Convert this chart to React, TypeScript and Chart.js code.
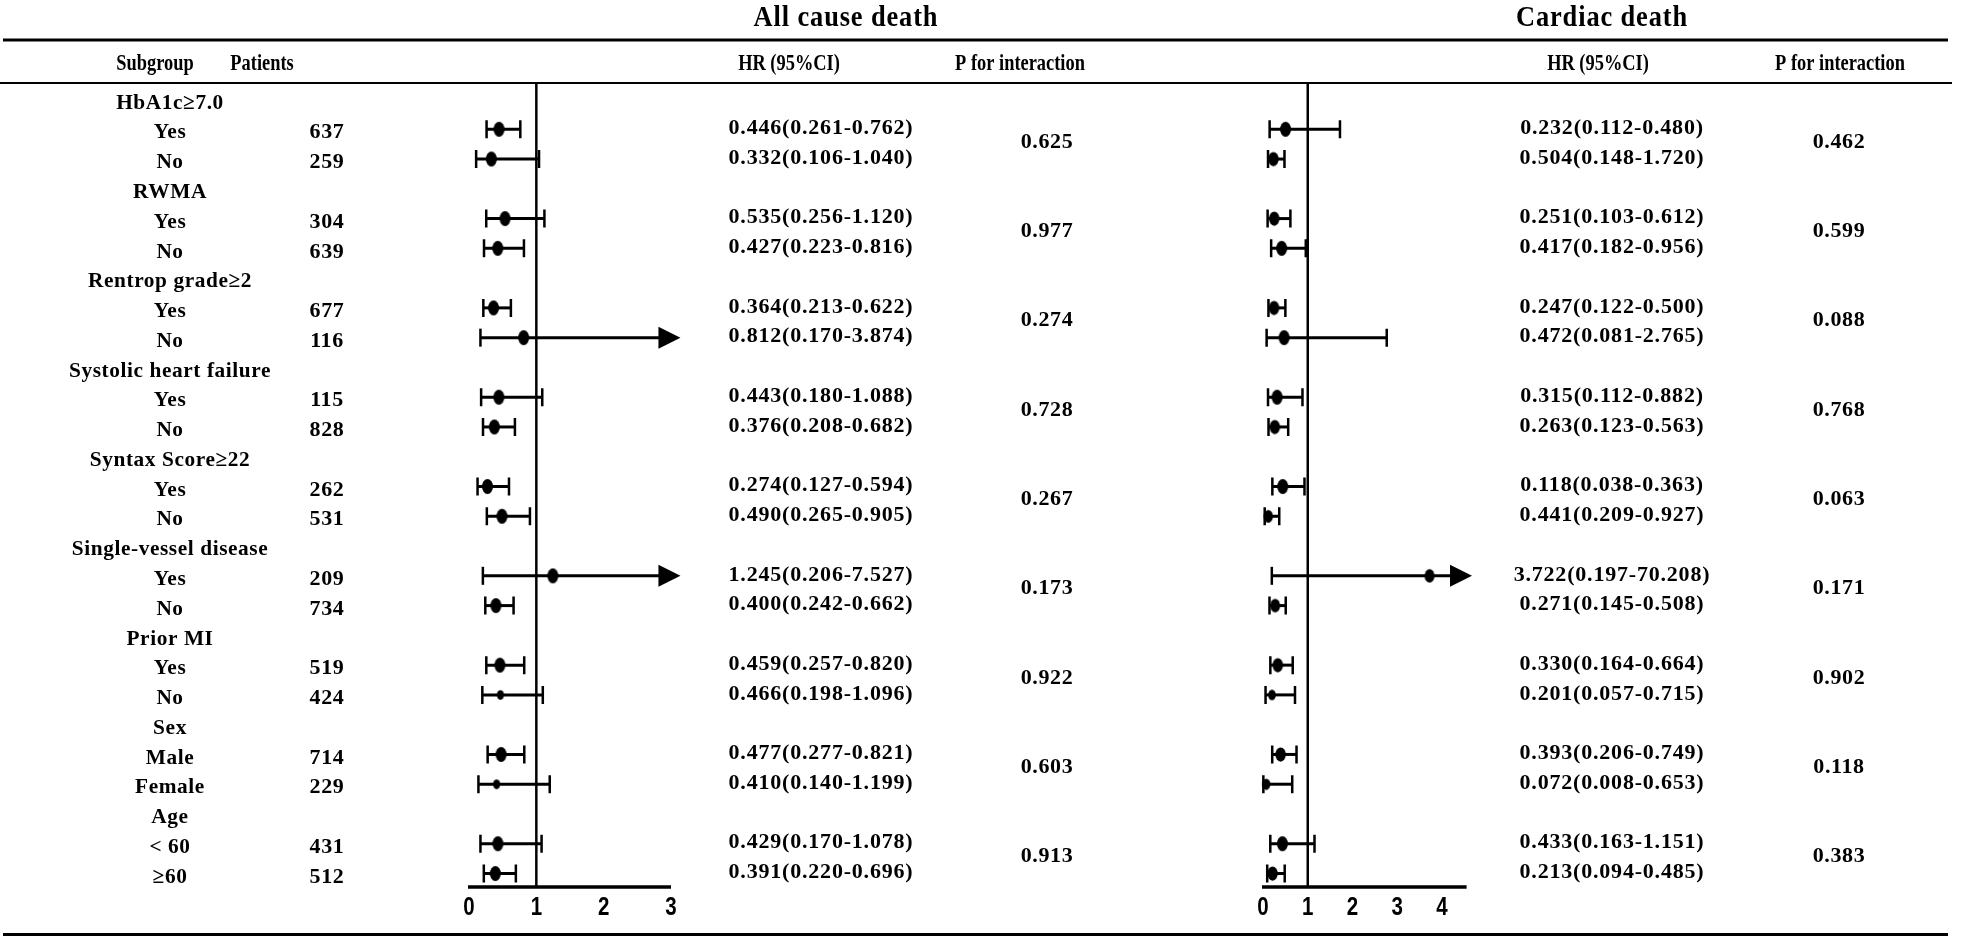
import React, { useEffect, useRef } from "react";
import { Chart, registerables } from "chart.js";

Chart.register(...registerables);

const W = 1961;
const H = 939;

// ---------- data ----------
const groupNames = [
  "HbA1c≥7.0",
  "RWMA",
  "Rentrop grade≥2",
  "Systolic heart failure",
  "Syntax Score≥22",
  "Single-vessel disease",
  "Prior MI",
  "Sex",
  "Age",
];
const levelNames = [
  "Yes", "No", "Yes", "No", "Yes", "No", "Yes", "No", "Yes", "No",
  "Yes", "No", "Yes", "No", "Male", "Female", "< 60", "≥60",
];
const patients = [637, 259, 304, 639, 677, 116, 115, 828, 262, 531, 209, 734, 519, 424, 714, 229, 431, 512];

// All cause death
const allHR = [0.446, 0.332, 0.535, 0.427, 0.364, 0.812, 0.443, 0.376, 0.274, 0.49, 1.245, 0.4, 0.459, 0.466, 0.477, 0.41, 0.429, 0.391];
const allLo = [0.261, 0.106, 0.256, 0.223, 0.213, 0.17, 0.18, 0.208, 0.127, 0.265, 0.206, 0.242, 0.257, 0.198, 0.277, 0.14, 0.17, 0.22];
const allHi = [0.762, 1.04, 1.12, 0.816, 0.622, 3.874, 1.088, 0.682, 0.594, 0.905, 7.527, 0.662, 0.82, 1.096, 0.821, 1.199, 1.078, 0.696];
const allP = ["0.625", "0.977", "0.274", "0.728", "0.267", "0.173", "0.922", "0.603", "0.913"];

// Cardiac death (as printed in the HR column)
const cardHR = [0.232, 0.504, 0.251, 0.417, 0.247, 0.472, 0.315, 0.263, 0.118, 0.441, 3.722, 0.271, 0.33, 0.201, 0.393, 0.072, 0.433, 0.213];
const cardLo = [0.112, 0.148, 0.103, 0.182, 0.122, 0.081, 0.112, 0.123, 0.038, 0.209, 0.197, 0.145, 0.164, 0.057, 0.206, 0.008, 0.163, 0.094];
const cardHi = [0.48, 1.72, 0.612, 0.956, 0.5, 2.765, 0.882, 0.563, 0.363, 0.927, 70.208, 0.508, 0.664, 0.715, 0.749, 0.653, 1.151, 0.485];
const cardP = ["0.462", "0.599", "0.088", "0.768", "0.063", "0.171", "0.902", "0.118", "0.383"];

// Cardiac death marks as drawn in the figure
const cardPlotHR = [0.504, 0.232, 0.251, 0.417, 0.247, 0.472, 0.315, 0.263, 0.441, 0.118, 3.722, 0.271, 0.33, 0.201, 0.393, 0.072, 0.433, 0.213];
const cardPlotLo = [0.148, 0.112, 0.103, 0.182, 0.122, 0.081, 0.112, 0.123, 0.209, 0.038, 0.197, 0.145, 0.164, 0.057, 0.206, 0.008, 0.163, 0.094];
const cardPlotHi = [1.72, 0.48, 0.612, 0.956, 0.5, 2.765, 0.882, 0.563, 0.927, 0.363, 70.208, 0.508, 0.664, 0.715, 0.749, 0.653, 1.151, 0.485];

const leftTicks = [0, 1, 2, 3];
const rightTicks = [0, 1, 2, 3, 4];

// ---------- styles / layout ----------
const leftMarkerSize = [1, 1, 1, 1, 1, 1, 1, 1, 1, 1, 1, 1, 1, 0.65, 1, 0.65, 1, 1];
const rightMarkerSize = [1, 0.95, 0.95, 1, 0.95, 1, 1, 0.95, 1, 0.85, 0.9, 0.9, 0.95, 0.7, 0.95, 0.75, 1, 0.95];

const ROW0_PX = 99.5;
const ROW_STEP = 29.77;
const LEFT_AX = { px0: 469, pxEnd: 671, vEnd: 3, lineEnd: 3, arrowTip: 3.14 };
const RIGHT_AX = { px0: 1263, pxEnd: 1442, vEnd: 4, lineEnd: 4.55, arrowTip: 4.67 };
const AXIS_ROW = 26.45;
const HEADER_RULE_Y = 83;

const SERIF = '"Liberation Serif", "Times New Roman", serif';
const SANS = '"Liberation Sans Narrow", "Arial Narrow", "Liberation Sans", Arial, sans-serif';

function rowOf(i: number) {
  return Math.floor(i / 2) * 3 + 1 + (i % 2);
}

function axisRange(ax: { px0: number; pxEnd: number; vEnd: number }) {
  const ppu = (ax.pxEnd - ax.px0) / ax.vEnd;
  return { min: -ax.px0 / ppu, max: (W - ax.px0) / ppu };
}

function fmt(hr: number, lo: number, hi: number) {
  return `${hr.toFixed(3)}(${lo.toFixed(3)}-${hi.toFixed(3)})`;
}

function makeMarker(scale: number) {
  const rx = 5.5 * scale;
  const ry = 7.5 * scale;
  const c = document.createElement("canvas");
  c.width = Math.ceil(rx * 2 + 2);
  c.height = Math.ceil(ry * 2 + 2);
  const g = c.getContext("2d")!;
  g.fillStyle = "#000";
  g.beginPath();
  g.ellipse(c.width / 2, c.height / 2, rx, ry, 0, 0, Math.PI * 2);
  g.fill();
  return c;
}

function text(ctx: CanvasRenderingContext2D, s: string, x: number, y: number, font: string, sx = 1, spacing = "0px") {
  ctx.save();
  ctx.font = font;
  (ctx as any).letterSpacing = spacing;
  ctx.textAlign = "center";
  ctx.textBaseline = "middle";
  ctx.translate(x, y);
  ctx.scale(sx, 1);
  ctx.fillText(s, 0, 0);
  ctx.restore();
}

function drawPanel(
  ctx: CanvasRenderingContext2D,
  xs: any,
  ys: any,
  hr: number[],
  lo: number[],
  hi: number[],
  ax: { vEnd: number; lineEnd: number; arrowTip: number },
  ticks: number[]
) {
  ctx.save();
  ctx.strokeStyle = "#000";
  ctx.fillStyle = "#000";
  ctx.lineCap = "butt";
  const axisY = ys.getPixelForValue(AXIS_ROW);
  // reference line at HR = 1
  ctx.lineWidth = 2.5;
  const p1 = xs.getPixelForValue(1);
  ctx.beginPath();
  ctx.moveTo(p1, HEADER_RULE_Y);
  ctx.lineTo(p1, axisY);
  ctx.stroke();
  // x axis
  ctx.lineWidth = 3.5;
  ctx.beginPath();
  ctx.moveTo(xs.getPixelForValue(0) - 1, axisY);
  ctx.lineTo(xs.getPixelForValue(ax.lineEnd), axisY);
  ctx.stroke();
  for (const t of ticks) {
    text(ctx, String(t), xs.getPixelForValue(t), axisY + 21, `bold 25px ${SANS}`, 0.82);
  }
  // CIs
  for (let i = 0; i < hr.length; i++) {
    const py = ys.getPixelForValue(rowOf(i));
    const pl = xs.getPixelForValue(lo[i]);
    const arrow = hi[i] > ax.lineEnd;
    const ph = xs.getPixelForValue(arrow ? ax.arrowTip : hi[i]);
    ctx.lineWidth = 3;
    ctx.beginPath();
    ctx.moveTo(pl, py);
    ctx.lineTo(arrow ? ph - 20 : ph, py);
    ctx.stroke();
    ctx.lineWidth = 2.5;
    ctx.beginPath();
    ctx.moveTo(pl, py - 9);
    ctx.lineTo(pl, py + 9);
    if (!arrow) {
      ctx.moveTo(ph, py - 9);
      ctx.lineTo(ph, py + 9);
    }
    ctx.stroke();
    if (arrow) {
      ctx.beginPath();
      ctx.moveTo(ph, py);
      ctx.lineTo(ph - 22, py - 11);
      ctx.lineTo(ph - 22, py + 11);
      ctx.closePath();
      ctx.fill();
    }
  }
  ctx.restore();
}

const forestPlugin = {
  id: "forestTable",
  beforeDatasetsDraw(chart: any) {
    const ctx: CanvasRenderingContext2D = chart.ctx;
    const ys = chart.scales.y;
    const xL = chart.scales.xL;
    const xR = chart.scales.xR;
    ctx.save();
    ctx.fillStyle = "#fff";
    ctx.fillRect(0, 0, W, H);
    ctx.fillStyle = "#000";
    ctx.strokeStyle = "#000";

    // rules
    ctx.lineWidth = 3;
    ctx.beginPath();
    ctx.moveTo(3, 40);
    ctx.lineTo(1948, 40);
    ctx.stroke();
    ctx.lineWidth = 2;
    ctx.beginPath();
    ctx.moveTo(0, HEADER_RULE_Y);
    ctx.lineTo(1952, HEADER_RULE_Y);
    ctx.stroke();
    ctx.lineWidth = 3;
    ctx.beginPath();
    ctx.moveTo(3, 934.5);
    ctx.lineTo(1948, 934.5);
    ctx.stroke();

    // titles and headers
    const titleFont = `bold 30px ${SERIF}`;
    const headFont = `bold 23px ${SERIF}`;
    text(ctx, "All cause death", 846, 18, titleFont, 0.88, "1px");
    text(ctx, "Cardiac death", 1602, 18, titleFont, 0.88, "1px");
    text(ctx, "Subgroup", 155, 64, headFont, 0.8);
    text(ctx, "Patients", 262, 64, headFont, 0.8);
    text(ctx, "HR (95%CI)", 789, 64, headFont, 0.8);
    text(ctx, "P for interaction", 1020, 64, headFont, 0.8);
    text(ctx, "HR (95%CI)", 1598, 64, headFont, 0.8);
    text(ctx, "P for interaction", 1840, 64, headFont, 0.8);

    const bodyFont = `bold 22px ${SERIF}`;
    // group headers
    groupNames.forEach((g, k) => {
      text(ctx, g, 170, ys.getPixelForValue(k * 3) + 3.5, bodyFont, 0.97, "0.6px");
      const pMid = (ys.getPixelForValue(k * 3 + 1) + ys.getPixelForValue(k * 3 + 2)) / 2 - 2;
      text(ctx, allP[k], 1047, pMid, bodyFont, 1, "0.6px");
      text(ctx, cardP[k], 1839, pMid, bodyFont, 1, "0.6px");
    });
    levelNames.forEach((l, i) => {
      const py = ys.getPixelForValue(rowOf(i));
      text(ctx, l, 170, py + 3.5, bodyFont, 0.97, "0.6px");
      text(ctx, String(patients[i]), 327, py + 3.5, bodyFont, 1, "0.6px");
      text(ctx, fmt(allHR[i], allLo[i], allHi[i]), 821, py - 1, bodyFont, 1, "0.8px");
      text(ctx, fmt(cardHR[i], cardLo[i], cardHi[i]), 1612, py - 1, bodyFont, 1, "0.8px");
    });
    ctx.restore();

    drawPanel(ctx, xL, ys, allHR, allLo, allHi, LEFT_AX, leftTicks);
    drawPanel(ctx, xR, ys, cardPlotHR, cardPlotLo, cardPlotHi, RIGHT_AX, rightTicks);
  },
};

export default function App() {
  const ref = useRef<HTMLCanvasElement | null>(null);
  useEffect(() => {
    document.body.style.margin = "0";
    const canvas = ref.current!;
    const lr = axisRange(LEFT_AX);
    const rr = axisRange(RIGHT_AX);
    const yMin = -ROW0_PX / ROW_STEP;
    const yMax = (H - ROW0_PX) / ROW_STEP;
    const chart = new Chart(canvas, {
      type: "scatter",
      data: {
        datasets: [
          {
            label: "All cause death",
            data: allHR.map((v, i) => ({ x: v, y: rowOf(i) })),
            xAxisID: "xL",
            yAxisID: "y",
            pointStyle: leftMarkerSize.map(makeMarker) as any,
            backgroundColor: "#000",
            borderColor: "#000",
          },
          {
            label: "Cardiac death",
            data: cardPlotHR.map((v, i) => ({ x: v, y: rowOf(i) })),
            xAxisID: "xR",
            yAxisID: "y",
            pointStyle: rightMarkerSize.map(makeMarker) as any,
            backgroundColor: "#000",
            borderColor: "#000",
          },
        ],
      },
      options: {
        responsive: false,
        animation: false,
        devicePixelRatio: 1,
        layout: { padding: 0, autoPadding: false } as any,
        plugins: { legend: { display: false }, tooltip: { enabled: false } },
        scales: {
          xL: { type: "linear", min: lr.min, max: lr.max, display: false },
          xR: { type: "linear", min: rr.min, max: rr.max, display: false },
          y: { type: "linear", min: yMin, max: yMax, reverse: true, display: false },
        },
      },
      plugins: [forestPlugin],
    });
    return () => chart.destroy();
  }, []);
  return (
    <div style={{ position: "absolute", left: 0, top: 0, width: W, height: H, background: "#fff" }}>
      <canvas ref={ref} width={W} height={H} style={{ display: "block", width: W, height: H }} />
    </div>
  );
}
